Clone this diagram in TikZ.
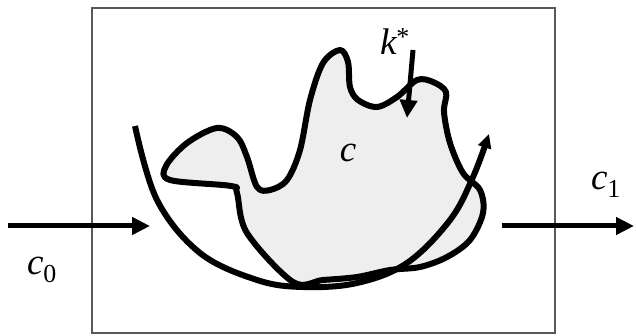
\documentclass[tikz,border=0pt]{standalone}
\usepackage{fontspec}
\setmainfont{Liberation Serif}
\usetikzlibrary{arrows.meta}
\tikzset{
  bold/.style={line width=6pt, line cap=round, line join=round},
  flow/.style={line width=5pt, -{Triangle[length=18pt,width=17pt]}},
  lbl/.style={font=\fontsize{37}{40}\selectfont\itshape, inner sep=0pt},
}
\begin{document}
\begin{tikzpicture}[x=1pt,y=-1pt]
\useasboundingbox (0,0) rectangle (636,336);
% box
\draw[gray!70!black, line width=1.4pt] (92,8) rectangle (555,333);
% blob
\draw[bold, fill=gray!13] plot[smooth cycle, tension=0.55] coordinates {
 (293,282) (247,233) (237,193) (231,186) (170,180) (166,166) (187,143) (217,128)
 (237,137) (247,157) (257,187) (270,190) (287,180) (300,150) (310,100) (323,63)
 (340,50) (348,62) (350,87) (358,100) (377,107) (397,97) (417,80) (433,82)
 (446,92) (444,112) (450,143) (463,173) (480,190) (483,213) (470,240) (447,257)
 (420,267) (390,270) (357,277) (323,280)};
% arc with arrow
\draw[bold, line cap=butt, -{Triangle[length=14pt,width=13pt]}] plot[smooth, tension=0.6] coordinates {
 (135,126) (157,200) (200,253) (257,280) (303,287) (357,283) (407,263) (450,220) (473,177) (489,134)};
% k* arrow
\coordinate (kS) at (413,50);
\coordinate (kE) at (407,118);
\draw[flow] (kS) -- (kE);
% input / output
\coordinate (inS) at (8,226);
\coordinate (inE) at (150,226);
\coordinate (outS) at (502,226);
\coordinate (outE) at (634,226);
\draw[flow] (inS) -- (inE);
\draw[flow] (outS) -- (outE);
% labels
\node[lbl] (k) at (395,42) {k\textsuperscript{\upshape *}};
\node[lbl] (c) at (348,153) {c};
\node[lbl] (c0) at (42,270) {c\textsubscript{\upshape 0}};
\node[lbl] (c1) at (606,185) {c\textsubscript{\upshape 1}};
\end{tikzpicture}
\end{document}
